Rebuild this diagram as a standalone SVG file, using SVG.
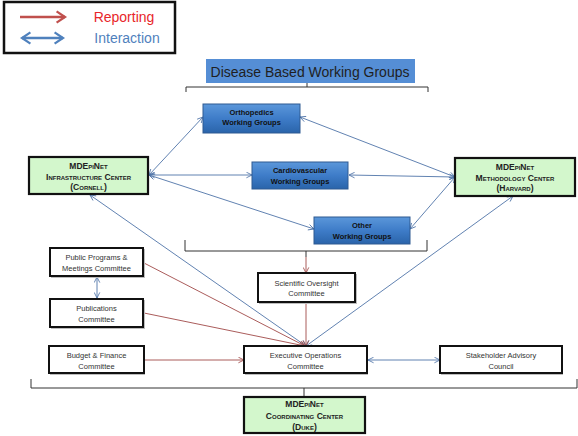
<svg xmlns="http://www.w3.org/2000/svg" width="578" height="436" viewBox="0 0 578 436">
<defs>
<linearGradient id="bg" x1="0" y1="0" x2="0" y2="1">
<stop offset="0" stop-color="#5B97DA"/>
<stop offset="0.5" stop-color="#3E7CC8"/>
<stop offset="1" stop-color="#2A64AA"/>
</linearGradient>
<marker id="ab" viewBox="0 0 10 10" refX="9" refY="5" markerWidth="7" markerHeight="7" orient="auto-start-reverse" markerUnits="userSpaceOnUse"><path d="M1,1 L9,5 L1,9" fill="none" stroke="#4F74A8" stroke-width="1.2"/></marker>
<marker id="ar" viewBox="0 0 10 10" refX="9" refY="5" markerWidth="7" markerHeight="7" orient="auto" markerUnits="userSpaceOnUse"><path d="M1,1 L9,5 L1,9" fill="none" stroke="#A04A48" stroke-width="1.2"/></marker>
<marker id="lr" viewBox="0 0 10 10" refX="8" refY="5" markerWidth="14" markerHeight="14" orient="auto" markerUnits="userSpaceOnUse"><path d="M2,1 L8,5 L2,9" fill="none" stroke="#C0504D" stroke-width="1.6"/></marker>
<marker id="lb" viewBox="0 0 10 10" refX="8" refY="5" markerWidth="14" markerHeight="14" orient="auto-start-reverse" markerUnits="userSpaceOnUse"><path d="M2,1 L8,5 L2,9" fill="none" stroke="#4F81BD" stroke-width="1.6"/></marker>
</defs>
<style>
text{font-family:"Liberation Sans",Arial,sans-serif;text-anchor:middle}
.wg rect{fill:url(#bg);stroke:#2F5A92;stroke-width:1}
.wg text{font-size:7.5px;font-weight:bold;fill:#111}
.gr rect{fill:#D3F7CC;stroke:#111;stroke-width:2.2}
.gr text{font-size:8.6px;font-weight:bold;fill:#222;font-variant:small-caps}
.gr text.h{font-size:8.5px}
.cm rect.s{fill:#BDBDBD;stroke:none}
.cm rect.b{fill:#fff;stroke:#111;stroke-width:2}
.cm text{font-size:7.5px;fill:#333}
.bl{stroke:#4F74A8;stroke-width:0.9;fill:none}
.rd{stroke:#A04A48;stroke-width:0.9;fill:none}
.br{stroke:#333;stroke-width:1;fill:none}
</style>

<g id="legend">
<rect x="4" y="2" width="171" height="51" fill="#fff" stroke="#111" stroke-width="2.5"/>
<line x1="20" y1="17" x2="65" y2="17" stroke="#C0504D" stroke-width="2.5" marker-end="url(#lr)"/>
<line x1="22" y1="38" x2="63" y2="38" stroke="#4F81BD" stroke-width="2.5" marker-start="url(#lb)" marker-end="url(#lb)"/>
<text x="124" y="22" style="font-size:14px;fill:#E8262A">Reporting</text>
<text x="127" y="43" style="font-size:14px;fill:#4F81BD">Interaction</text>
</g>

<g id="title">
<rect x="206" y="59" width="209" height="24" fill="#558ED5"/>
<text x="310" y="77" style="font-size:14px;fill:#1F1F1F">Disease Based Working Groups</text>
</g>

<g id="brackets">
<path class="br" d="M186,92 V87 H428 V92 M307,87 V83"/>
<path class="br" d="M185,240 V251 H427 V240 M306,251 V257"/>
<path class="br" d="M31,379 V388 H577 V379 M304,388 V397"/>
</g>

<g id="connectors">
<line class="bl" x1="149" y1="175" x2="203" y2="117" marker-start="url(#ab)" marker-end="url(#ab)"/>
<line class="bl" x1="149" y1="175" x2="252" y2="175" marker-start="url(#ab)" marker-end="url(#ab)"/>
<line class="bl" x1="149" y1="175" x2="314" y2="229" marker-start="url(#ab)" marker-end="url(#ab)"/>
<line class="bl" x1="455" y1="177" x2="300" y2="117" marker-start="url(#ab)" marker-end="url(#ab)"/>
<line class="bl" x1="455" y1="177" x2="349" y2="175" marker-start="url(#ab)" marker-end="url(#ab)"/>
<line class="bl" x1="455" y1="177" x2="410" y2="229" marker-start="url(#ab)" marker-end="url(#ab)"/>
<line class="bl" x1="306" y1="346" x2="90" y2="195" marker-start="url(#ab)" marker-end="url(#ab)"/>
<line class="bl" x1="306" y1="346" x2="513" y2="196" marker-start="url(#ab)" marker-end="url(#ab)"/>
<line class="bl" x1="97" y1="277" x2="97" y2="298" marker-start="url(#ab)" marker-end="url(#ab)"/>
<line class="bl" x1="368" y1="360" x2="440" y2="360" marker-start="url(#ab)" marker-end="url(#ab)"/>
<line class="rd" x1="144" y1="263" x2="305" y2="346" marker-end="url(#ar)"/>
<line class="rd" x1="144" y1="313" x2="305" y2="346" marker-end="url(#ar)"/>
<line class="rd" x1="145" y1="360" x2="244" y2="360" marker-end="url(#ar)"/>
<line class="rd" x1="306" y1="303" x2="306" y2="346" marker-end="url(#ar)"/>
<line class="rd" x1="306" y1="257" x2="306" y2="273" marker-end="url(#ar)"/>
</g>

<g id="orthopedics" class="wg">
<rect x="203" y="104" width="97" height="29"/>
<text x="251.5" y="115">Orthopedics</text>
<text x="251.5" y="125">Working Groups</text>
</g>
<g id="cardiovascular" class="wg">
<rect x="252" y="162" width="96" height="27"/>
<text x="300" y="173">Cardiovascular</text>
<text x="300" y="184">Working Groups</text>
</g>
<g id="other" class="wg">
<rect x="314" y="217" width="96" height="27"/>
<text x="362" y="228">Other</text>
<text x="362" y="239">Working Groups</text>
</g>

<g id="cornell" class="gr">
<rect x="29" y="157" width="119" height="37"/>
<text class="h" x="88.5" y="169">MDEpiNet</text>
<text x="88.5" y="179.5">Infrastructure Center</text>
<text x="88.5" y="190">(Cornell)</text>
</g>
<g id="harvard" class="gr">
<rect x="455" y="158" width="120" height="38"/>
<text class="h" x="515" y="170">MDEpiNet</text>
<text x="515" y="180.5">Methodology Center</text>
<text x="515" y="191">(Harvard)</text>
</g>
<g id="duke" class="gr">
<rect x="244" y="397" width="121" height="36"/>
<text class="h" x="304.5" y="407">MDEpiNet</text>
<text x="304.5" y="419">Coordinating Center</text>
<text x="304.5" y="430">(Duke)</text>
</g>

<g id="public-programs" class="cm">
<rect class="s" x="51" y="249" width="94" height="29"/>
<rect class="b" x="50" y="248" width="93" height="28"/>
<text x="96.5" y="259.5">Public Programs &amp;</text>
<text x="96.5" y="270.5">Meetings Committee</text>
</g>
<g id="publications" class="cm">
<rect class="s" x="51" y="300" width="94" height="29"/>
<rect class="b" x="50" y="299" width="93" height="28"/>
<text x="96.5" y="310.5">Publications</text>
<text x="96.5" y="321.5">Committee</text>
</g>
<g id="scientific" class="cm">
<rect class="s" x="259" y="274" width="98" height="30"/>
<rect class="b" x="258" y="273" width="97" height="29"/>
<text x="306.5" y="285.5">Scientific Oversight</text>
<text x="306.5" y="296">Committee</text>
</g>
<g id="budget" class="cm">
<rect class="s" x="50" y="347" width="95" height="28"/>
<rect class="b" x="49" y="346" width="95" height="27"/>
<text x="96.5" y="357.5">Budget &amp; Finance</text>
<text x="96.5" y="368.5">Committee</text>
</g>
<g id="executive" class="cm">
<rect class="s" x="245" y="347" width="123" height="28"/>
<rect class="b" x="244" y="346" width="123" height="27"/>
<text x="305.5" y="357.5">Executive Operations</text>
<text x="305.5" y="368.5">Committee</text>
</g>
<g id="stakeholder" class="cm">
<rect class="s" x="441" y="347" width="122" height="28"/>
<rect class="b" x="440" y="346" width="122" height="27"/>
<text x="501" y="357.5">Stakeholder Advisory</text>
<text x="501" y="368.5">Council</text>
</g>
</svg>
